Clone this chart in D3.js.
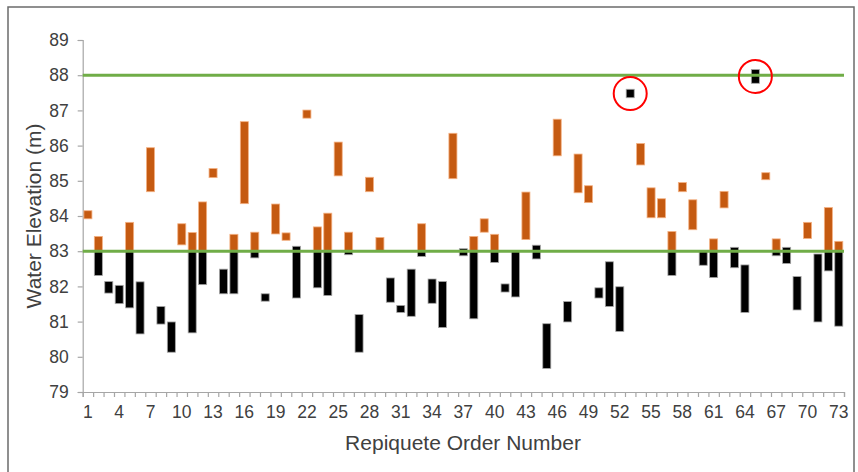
<!DOCTYPE html>
<html>
<head>
<meta charset="utf-8">
<script src="https://cdn.jsdelivr.net/npm/d3@7"></script>
<style>
	body { margin: 0; background: #fff; }
	text { font-family: "Liberation Sans", Arial, sans-serif; fill: #404040; }
</style>
</head>
<body>
<svg id="viz"></svg>
<script>

// the data
var orderNumbers = d3.range(1, 74);

var orangeLow  = [83.92, 83.0, null, null, 83.0, null, 84.69, null, null, 83.18,
                  83.0, 83.0, 85.09, null, 83.0, 84.35, 83.0, null, 83.49, 83.31,
                  null, 86.78, 83.0, 83.0, 85.14, 83.0, null, 84.69, 83.0, null,
                  null, null, 83.0, null, null, 85.06, null, 83.0, 83.54, 83.0,
                  null, null, 83.33, null, null, 85.71, null, 84.66, 84.38, null,
                  null, null, null, 85.45, 83.95, 83.95, 83.0, 84.69, 83.61, null,
                  83.0, 84.23, null, null, null, 85.03, 83.0, null, null, 83.36,
                  null, 83.0, 83.0];
var orangeHigh = [84.15, 83.42, null, null, 83.82, null, 85.94, null, null, 83.78,
                  83.53, 84.40, 85.35, null, 83.48, 86.68, 83.54, null, 84.34, 83.52,
                  null, 87.01, 83.69, 84.08, 86.10, 83.54, null, 85.10, 83.39, null,
                  null, null, 83.78, null, null, 86.35, null, 83.42, 83.92, 83.48,
                  null, null, 84.68, null, null, 86.75, null, 85.76, 84.86, null,
                  null, null, null, 86.06, 84.80, 84.49, 83.56, 84.95, 84.46, null,
                  83.35, 84.70, null, null, null, 85.23, 83.35, null, null, 83.82,
                  null, 84.24, 83.28];

var blackLow   = [null, 82.31, 81.81, 81.51, 81.39, 80.65, null, 80.93, 80.13, null,
                  80.68, 82.05, null, 81.79, 81.79, null, 82.81, 81.58, null, null,
                  81.67, null, 81.96, 81.74, null, 82.90, 80.13, null, null, 81.55,
                  81.26, 81.15, 82.85, 81.52, 80.83, null, 82.87, 81.08, null, 82.68,
                  81.84, 81.70, null, 82.78, 79.67, null, 80.99, null, null, 81.67,
                  81.43, 80.72, 87.36, null, null, null, 82.31, null, null, 82.60,
                  82.25, null, 82.53, 81.26, 87.77, null, 82.87, 82.65, 81.33, null,
                  80.99, 82.44, 80.87];
var blackHigh  = [null, 83.0, 82.14, 82.03, 83.0, 82.13, null, 81.43, 80.99, null,
                  83.0, 83.0, null, 82.49, 83.0, null, 83.0, 81.79, null, null,
                  83.14, null, 83.0, 83.0, null, 83.0, 81.20, null, null, 82.24,
                  81.46, 82.49, 83.0, 82.21, 82.14, null, 83.07, 83.0, null, 83.0,
                  82.07, 83.0, null, 83.17, 80.94, null, 81.57, null, null, 81.96,
                  82.70, 81.99, 87.60, null, null, null, 83.0, null, null, 83.0,
                  83.0, null, 83.11, 82.61, 88.16, null, 83.0, 83.11, 82.28, null,
                  82.92, 83.0, 83.0];

var limitLines = [88, 83];
var circledOrders = [53, 65];

var yTicks = [79, 80, 81, 82, 83, 84, 85, 86, 87, 88, 89];
var xTickLabels = [1, 4, 7, 10, 13, 16, 19, 22, 25, 28, 31, 34, 37, 40, 43, 46, 49,
                   52, 55, 58, 61, 64, 67, 70, 73];



// set up the svg
var w = 858;
var h = 472;
var viz = d3.select("#viz");
viz.attr("width", w).attr("height", h);

var plotLeft = 82.7, plotRight = 844, plotTop = 40, plotBottom = 392;

var x = d3.scaleBand()
	.domain(orderNumbers)
	.range([plotLeft, plotRight])
	.paddingInner(0.23)
	.paddingOuter(0.115);

var xEdge = d3.scaleLinear().domain([0.5, 73.5]).range([plotLeft, plotRight]);

var y = d3.scaleLinear().domain([79, 89]).range([plotBottom, plotTop]);



// outer frame
viz.append("rect")
	.attr("x", 8).attr("y", 7)
	.attr("width", 846).attr("height", 480)
	.attr("fill", "none")
	.attr("stroke", "#6b6b6b")
	.attr("stroke-width", 1.5);



// axes
var yAxis = viz.append("g")
	.attr("transform", "translate(" + plotLeft + ",0)")
	.call(d3.axisLeft(y).tickValues(yTicks).tickSize(5).tickPadding(9).tickFormat(d3.format("d")));

var xEdges = viz.append("g")
	.attr("transform", "translate(0," + plotBottom + ")")
	.call(d3.axisBottom(xEdge).tickValues(d3.range(0.5, 74, 1)).tickSize(5).tickFormat(""));

var xLabels = viz.append("g")
	.attr("transform", "translate(0," + plotBottom + ")")
	.call(d3.axisBottom(x).tickValues(xTickLabels).tickSize(0).tickPadding(14));

[yAxis, xEdges, xLabels].forEach(function(g) {
	g.selectAll("path, line").attr("stroke", "#a6a6a6").attr("stroke-width", 1.2);
	g.selectAll("text").style("font-size", "17.5px").attr("fill", "#404040");
});
xLabels.select("path").remove();



// bars
function bars(lo, hi, cls, fill, stroke) {
	var rows = orderNumbers
		.map(function(n, i) { return {n: n, lo: lo[i], hi: hi[i]}; })
		.filter(function(d) { return d.lo !== null; });
	viz.selectAll("rect." + cls)
		.data(rows)
		.enter()
		.append("rect")
		.attr("class", cls)
		.attr("x", function(d) { return x(d.n); })
		.attr("width", x.bandwidth())
		.attr("y", function(d) { return y(d.hi); })
		.attr("height", function(d) { return y(d.lo) - y(d.hi); })
		.attr("fill", fill)
		.attr("stroke", stroke)
		.attr("stroke-width", 0.8);
}

bars(orangeLow, orangeHigh, "orange", "#c55a11", "#f4b183");
bars(blackLow, blackHigh, "black", "#000000", "#a6a6a6");



// limit lines
viz.selectAll("line.limit")
	.data(limitLines)
	.enter()
	.append("line")
	.attr("class", "limit")
	.attr("x1", plotLeft).attr("x2", plotRight)
	.attr("y1", function(d) { return y(d); })
	.attr("y2", function(d) { return y(d); })
	.attr("stroke", "#70ad47")
	.attr("stroke-width", 3);



// red circles round the outliers
viz.selectAll("circle.mark")
	.data(circledOrders)
	.enter()
	.append("circle")
	.attr("class", "mark")
	.attr("cx", function(d) { return x(d) + x.bandwidth() / 2; })
	.attr("cy", function(d) {
		var i = d - 1;
		return y((blackLow[i] + blackHigh[i]) / 2);
	})
	.attr("r", 16.5)
	.attr("fill", "none")
	.attr("stroke", "#ff0000")
	.attr("stroke-width", 2);



// axis titles
viz.append("text")
	.text("Water Elevation (m)")
	.attr("transform", "translate(41,216) rotate(-90)")
	.attr("text-anchor", "middle")
	.style("font-size", "21px");

viz.append("text")
	.text("Repiquete Order Number")
	.attr("x", 463).attr("y", 450)
	.attr("text-anchor", "middle")
	.style("font-size", "21px");

</script>
</body>
</html>
